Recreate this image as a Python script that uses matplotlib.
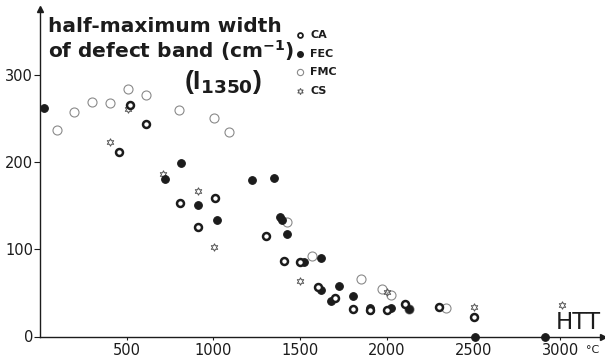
import matplotlib
matplotlib.use("Agg")
import matplotlib.pyplot as plt
from matplotlib import font_manager

# half-maximum width of the 1350 cm-1 band against heat treatment temperature
ca_htt = [520, 611, 457, 807, 1012, 909, 1306, 1408, 1500, 1603, 1700, 1806, 1902, 2004, 2107, 2303, 2505]
ca_w = [265, 244, 211, 153, 159, 126, 115, 86, 85, 57, 44, 32, 30, 30, 37, 34, 22]

fec_htt = [25, 720, 811, 913, 1023, 1220, 1351, 1387, 1397, 1422, 1522, 1622, 1618, 1680, 1724, 1806, 1902,
           1906, 2027, 2129, 2509, 2915]
fec_w = [262, 180, 199, 151, 133, 179, 182, 137, 133, 118, 85, 90, 53, 41, 58, 47, 33, 30, 33, 32, 0, 0]

fmc_htt = [96, 197, 300, 405, 507, 609, 803, 1004, 1088, 1422, 1570, 1850, 1975, 2023, 2130, 2341]
fmc_w = [237, 257, 269, 268, 284, 277, 260, 250, 234, 131, 92, 66, 55, 48, 31, 33]

cs_htt = [507, 405, 709, 909, 1004, 1497, 2000, 2505, 3012]
cs_w = [261, 223, 186, 167, 103, 64, 51, 34, 36]

xticks = [500, 1000, 1500, 2000, 2500, 3000]
yticks = [0, 100, 200, 300]

ink = "#1c1c1c"
grey = "#8a8a8a"


def have(name):
    try:
        font_manager.findfont(name, fallback_to_default=False)
        return True
    except Exception:
        return False


narrow = "Liberation Sans Narrow" if have("Liberation Sans Narrow") else "DejaVu Sans"

fig = plt.figure(figsize=(6.05, 3.57), dpi=100)
ax = fig.add_axes([40 / 605, 20.5 / 357, 1 - 40 / 605 - 0.004, 328 / 357])
ax.set_xlim(0, 3245)
ax.set_ylim(0, 376)

for s in ["top", "right"]:
    ax.spines[s].set_visible(False)
for s in ["left", "bottom"]:
    ax.spines[s].set_color(ink)
    ax.spines[s].set_linewidth(1.0)

# arrow heads on the two axes
ax.plot([1], [0], marker=">", ms=4, color=ink, transform=ax.transAxes, clip_on=False)
ax.plot([0], [1], marker="^", ms=4, color=ink, transform=ax.transAxes, clip_on=False)

ax.set_xticks(xticks)
ax.set_yticks(yticks)
ax.set_xticklabels([str(v) for v in xticks], fontfamily=narrow, fontsize=10.5, color=ink)
ax.set_yticklabels([str(v) for v in yticks], fontfamily=narrow, fontsize=10.5, color=ink)
ax.tick_params(axis="x", length=2, width=0.8, color=ink, pad=2.5)
ax.tick_params(axis="y", length=4, width=0.8, color=ink, pad=1)

kw = dict(linestyle="none", clip_on=False)
ax.plot(fmc_htt, fmc_w, marker="o", ms=6.5, mfc="white", mec=grey, mew=0.8, **kw)
ax.plot(cs_htt, cs_w, marker=(6, 1, 0), ms=5.5, mfc="none", mec="#555555", mew=0.7, **kw)
ax.plot(fec_htt, fec_w, marker="o", ms=5.5, mfc=ink, mec=ink, mew=0.8, **kw)
ax.plot(ca_htt, ca_w, marker="o", ms=5, mfc="white", mec=ink, mew=1.8, **kw)

# key, stacked to the right of the axis title
key_y = [346, 324, 303, 282]
ax.plot([1502], [key_y[0]], marker="o", ms=3.5, mfc="white", mec=ink, mew=1.3, **kw)
ax.plot([1502], [key_y[1]], marker="o", ms=4, mfc=ink, mec=ink, **kw)
ax.plot([1502], [key_y[2]], marker="o", ms=4.5, mfc="white", mec=grey, mew=0.8, **kw)
ax.plot([1502], [key_y[3]], marker=(6, 1, 0), ms=4.5, mfc="none", mec="#555555", mew=0.7, **kw)
for yy, name in zip(key_y, ["CA", "FEC", "FMC", "CS"]):
    ax.text(1560, yy, name, fontsize=8, fontweight="bold", color=ink, va="center", ha="left",
            fontfamily=narrow)

title_kw = dict(fontsize=14.5, fontweight="bold", color=ink, ha="left", va="baseline",
                fontfamily="DejaVu Sans")
ax.text(48, 349, "half-maximum width", **title_kw)
ax.text(48, 320, "of defect band (cm$^{\\mathbf{-1}}$)", **title_kw)
ax.text(1055, 292, r"(I$_{\mathbf{1350}}$)", fontsize=19, color=ink, fontweight="bold",
        ha="center", va="center", fontfamily="Liberation Sans")

ax.text(3238, 3, "HTT", fontsize=16.5, color=ink, ha="right", va="bottom", fontfamily=narrow,
        clip_on=False)
ax.text(3185, -15, "°C", fontsize=8, color=ink, ha="center", va="center", fontfamily=narrow,
        clip_on=False)

fig.savefig("out.png", dpi=100, facecolor="white")
